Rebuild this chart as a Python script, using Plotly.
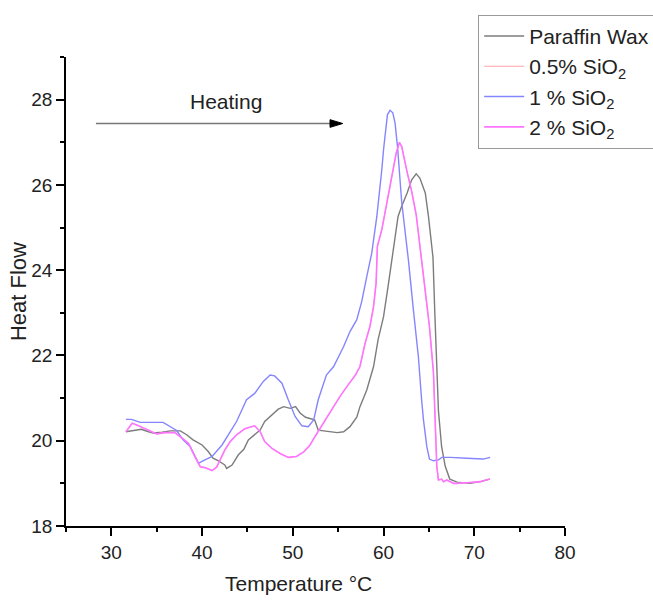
import plotly.graph_objects as go

# ---- data ----
wax_x = [31.6, 32.4, 33.3, 34.1, 34.6, 35.6, 36.5, 37.6, 38.3, 39.0, 40.0, 40.7, 41.2, 41.8,
         42.5, 42.7, 43.3, 44.0, 44.6, 45.1, 45.8, 46.4, 46.9, 47.7, 48.4, 49.0, 49.7, 50.3,
         50.8, 51.4, 52.4, 52.8, 53.7, 54.9, 55.6, 56.3, 57.05, 57.4, 58.15, 58.9, 59.4, 60.0,
         60.5, 60.9, 61.3, 61.6, 62.0, 62.6, 63.1, 63.6, 64.0, 64.6, 64.95, 65.1, 65.45, 65.65,
         65.85, 66.05, 66.4, 66.8, 67.3, 68.1, 69.5, 70.7, 71.7]
wax_y = [20.21, 20.24, 20.27, 20.21, 20.18, 20.20, 20.23, 20.23, 20.14, 20.02, 19.90, 19.74, 19.59, 19.53,
         19.43, 19.35, 19.43, 19.67, 19.80, 20.02, 20.14, 20.25, 20.45, 20.61, 20.74, 20.80, 20.76, 20.80,
         20.65, 20.55, 20.49, 20.25, 20.23, 20.19, 20.21, 20.33, 20.55, 20.80, 21.19, 21.74, 22.37, 22.91,
         23.62, 24.24, 24.75, 25.26, 25.50, 25.81, 26.12, 26.26, 26.16, 25.81, 25.26, 25.00, 24.30, 23.00,
         21.70, 20.70, 19.86, 19.40, 19.10, 19.03, 19.00, 19.04, 19.10]

sio2_1_x = [31.6, 32.2, 33.2, 35.7, 37.2, 37.9, 38.7, 39.6, 40.1, 41.1, 42.2, 43.1, 43.8, 44.9,
            45.8, 46.75, 47.5, 48.0, 48.8, 49.5, 50.25, 51.0, 51.7, 52.3, 52.8, 53.7, 54.5, 55.6,
            56.3, 57.05, 57.6, 58.15, 58.7, 59.26, 59.62, 59.81, 60.0, 60.17, 60.43, 60.72, 61.02,
            61.27, 61.55, 62.0, 62.74, 63.29, 63.84, 64.2, 64.4, 64.77, 65.06, 65.5, 66.05, 66.43,
            67.34, 69.18, 71.0, 71.75]
sio2_1_y = [20.50, 20.50, 20.43, 20.43, 20.24, 20.02, 19.86, 19.47, 19.53, 19.63, 19.90, 20.21, 20.45, 20.96,
            21.11, 21.39, 21.54, 21.52, 21.35, 20.96, 20.57, 20.35, 20.33, 20.49, 20.96, 21.54, 21.74, 22.21,
            22.56, 22.84, 23.27, 23.85, 24.40, 25.26, 25.89, 26.36, 26.83, 27.22, 27.65, 27.75, 27.69,
            27.45, 26.87, 25.60, 24.24, 23.07, 21.97, 20.95, 20.49, 19.86, 19.57, 19.53, 19.55, 19.61,
            19.61, 19.59, 19.57, 19.61]

sio2_2_x = [31.6, 32.3, 33.0, 34.1, 35.0, 35.9, 37.0, 37.8, 38.5, 39.2, 39.8, 40.3, 41.1, 41.6,
            42.5, 43.1, 43.8, 44.7, 45.8, 46.4, 46.9, 47.7, 48.6, 49.5, 50.4, 51.2, 51.9, 52.45,
            53.0, 53.7, 54.5, 55.2, 56.1, 56.9, 57.4, 57.97, 58.5, 58.9, 59.18, 59.32, 59.81, 60.3,
            60.9, 61.4, 61.75, 62.0, 62.6, 63.1, 63.6, 64.03, 64.58, 65.06, 65.5, 65.68, 65.87, 66.05,
            66.4, 66.6, 66.98, 67.7, 68.1, 69.5, 70.65, 71.7]
sio2_2_y = [20.21, 20.41, 20.35, 20.25, 20.16, 20.19, 20.19, 20.06, 19.94, 19.63, 19.39, 19.37, 19.30, 19.38,
            19.78, 19.98, 20.14, 20.28, 20.35, 20.21, 19.98, 19.82, 19.70, 19.61, 19.63, 19.74, 19.90, 20.10,
            20.29, 20.53, 20.80, 21.04, 21.31, 21.54, 21.74, 22.29, 22.68, 23.15, 23.70, 24.56, 24.95, 25.50,
            26.25, 26.75, 27.00, 26.90, 26.30, 25.85, 25.30, 24.50, 23.54, 22.68, 21.60, 20.30, 19.40, 19.08,
            19.10, 19.04, 19.08, 19.00, 19.00, 19.02, 19.04, 19.10]

# 0.5 % SiO2 lies underneath the 2 % curve in the reference (not separately visible)
sio2_05_x = list(sio2_2_x)
sio2_05_y = list(sio2_2_y)

names = ["Paraffin Wax", "0.5% SiO<sub>2</sub>", "1 % SiO<sub>2</sub>", "2 % SiO<sub>2</sub>"]
colors = ["#7c7c7c", "#ffa0a8", "#8585ff", "#ff74ff"]
widths = [1.4, 1.0, 1.4, 1.6]
series = [(wax_x, wax_y), (sio2_05_x, sio2_05_y), (sio2_1_x, sio2_1_y), (sio2_2_x, sio2_2_y)]

FONT = "Liberation Sans, Arial, sans-serif"

fig = go.Figure()
for (xs, ys), n, c, w in zip(series, names, colors, widths):
    fig.add_trace(go.Scatter(x=xs, y=ys, mode="lines", name=n,
                             line=dict(color=c, width=w)))

axis_common = dict(showline=True, linecolor="black", linewidth=1.5, showgrid=False,
                   zeroline=False, ticks="outside", ticklen=8, tickwidth=1.5, tickcolor="black",
                   tickfont=dict(family=FONT, size=19, color="#222"))

fig.update_xaxes(range=[25, 80], tick0=0, dtick=10,
                 minor=dict(dtick=5, ticks="outside", ticklen=4, tickwidth=1.5, tickcolor="black"),
                 **axis_common)
fig.update_yaxes(range=[18, 29], tick0=0, dtick=2,
                 minor=dict(dtick=1, ticks="outside", ticklen=4, tickwidth=1.5, tickcolor="black"),
                 **axis_common)

fig.add_annotation(text="Heat Flow", xref="paper", yref="paper", x=-0.095, y=0.5,
                   textangle=-90, showarrow=False, xanchor="center", yanchor="middle",
                   font=dict(family=FONT, size=22, color="#222"))
fig.add_annotation(text="Temperature °C", xref="paper", yref="paper", x=0.465, y=-0.122,
                   showarrow=False, xanchor="center", yanchor="middle",
                   font=dict(family=FONT, size=21, color="#222"))

# Heating label and arrow
fig.add_annotation(text="Heating", x=42.6, y=27.95, xref="x", yref="y", showarrow=False,
                   font=dict(family=FONT, size=21, color="#222"))
fig.add_shape(type="line", xref="x", yref="y", x0=28.3, y0=27.44, x1=54.4, y1=27.44,
              line=dict(color="#777", width=1.6))
fig.add_shape(type="path", xref="x", yref="y",
              path="M54.1,27.53 L55.5,27.44 L54.1,27.35 Z",
              fillcolor="black", line=dict(color="black", width=1))

fig.update_layout(
    width=653, height=601,
    margin=dict(l=66, r=88, t=57, b=75, autoexpand=False),
    paper_bgcolor="white", plot_bgcolor="white",
    font=dict(family=FONT, color="#222"),
    showlegend=True,
    legend=dict(x=0.826, y=1.09, xanchor="left", yanchor="top",
                bordercolor="#999", borderwidth=1, bgcolor="white",
                font=dict(family=FONT, size=21, color="#222"), itemwidth=40),
)

fig.write_html("out.html")
